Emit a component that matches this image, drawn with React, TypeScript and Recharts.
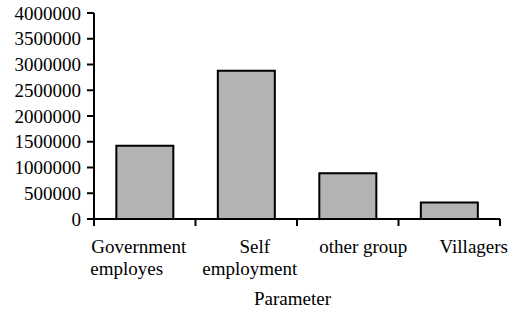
import React from "react";
import { BarChart, Bar, XAxis, YAxis } from "recharts";

const categories = ["Government employes", "Self employment", "other group", "Villagers"];
const values = [1420000, 2880000, 890000, 320000];
const yTicks = [0, 500000, 1000000, 1500000, 2000000, 2500000, 3000000, 3500000, 4000000];
const categoryLines = [["Government", "employes"], ["Self", "employment"], ["other group"], ["Villagers"]];
const xAxisTitle = "Parameter";

// styling / layout constants
const FONT = "Liberation Serif, Times New Roman, Times, serif";
const FS = 19;
const BAND = (510 - 94 - 10) / 4;
const LINE_DX = [[-6, -18], [8.5, 3.5], [15.5], [24.5]];

const data = categories.map((c, i) => ({ name: c, value: values[i] }));

const XTick = (props: any) => {
  const { x, y, index } = props;
  const lines = categoryLines[index] || [];
  const dxs = LINE_DX[index] || [];
  return (
    <g>
      <line x1={x - BAND / 2} x2={x - BAND / 2} y1={y} y2={y + 7} stroke="#000" strokeWidth={2} />
      {index === categories.length - 1 && (
        <line x1={x + BAND / 2} x2={x + BAND / 2} y1={y} y2={y + 7} stroke="#000" strokeWidth={2} />
      )}
      {lines.map((ln, i) => (
        <text
          key={i}
          x={x + (dxs[i] || 0)}
          y={y + 34 + i * 21.5}
          textAnchor="middle"
          style={{ fontFamily: FONT, fontSize: FS }}
          fill="#000"
        >
          {ln}
        </text>
      ))}
    </g>
  );
};

export default function App() {
  return (
    <div style={{ position: "absolute", left: 0, top: 0, width: 510, height: 309, background: "#fff", fontFamily: FONT }}>
      <BarChart
        width={510}
        height={309}
        data={data}
        margin={{ top: 13, right: 10, left: 0, bottom: 0 }}
        barCategoryGap="22%"
        style={{ fontFamily: FONT }}
      >
        <XAxis
          dataKey="name"
          height={90}
          tickLine={false}
          tickSize={0}
          tickMargin={0}
          axisLine={{ stroke: "#000", strokeWidth: 2 }}
          tick={<XTick />}
          interval={0}
          label={{
            value: xAxisTitle,
            position: "insideBottom",
            offset: 4,
            dx: -4.5,
            fill: "#000",
            style: { fontFamily: FONT, fontSize: FS },
          }}
        />
        <YAxis
          width={94}
          domain={[0, 4000000]}
          ticks={yTicks}
          interval={0}
          tickSize={7}
          tickMargin={6}
          tickLine={{ stroke: "#000", strokeWidth: 2 }}
          axisLine={{ stroke: "#000", strokeWidth: 2 }}
          tick={{ fill: "#000", style: { fontFamily: FONT, fontSize: FS } }}
        />
        <Bar dataKey="value" fill="#b3b3b3" stroke="#000" strokeWidth={2} isAnimationActive={false} />
      </BarChart>
    </div>
  );
}
